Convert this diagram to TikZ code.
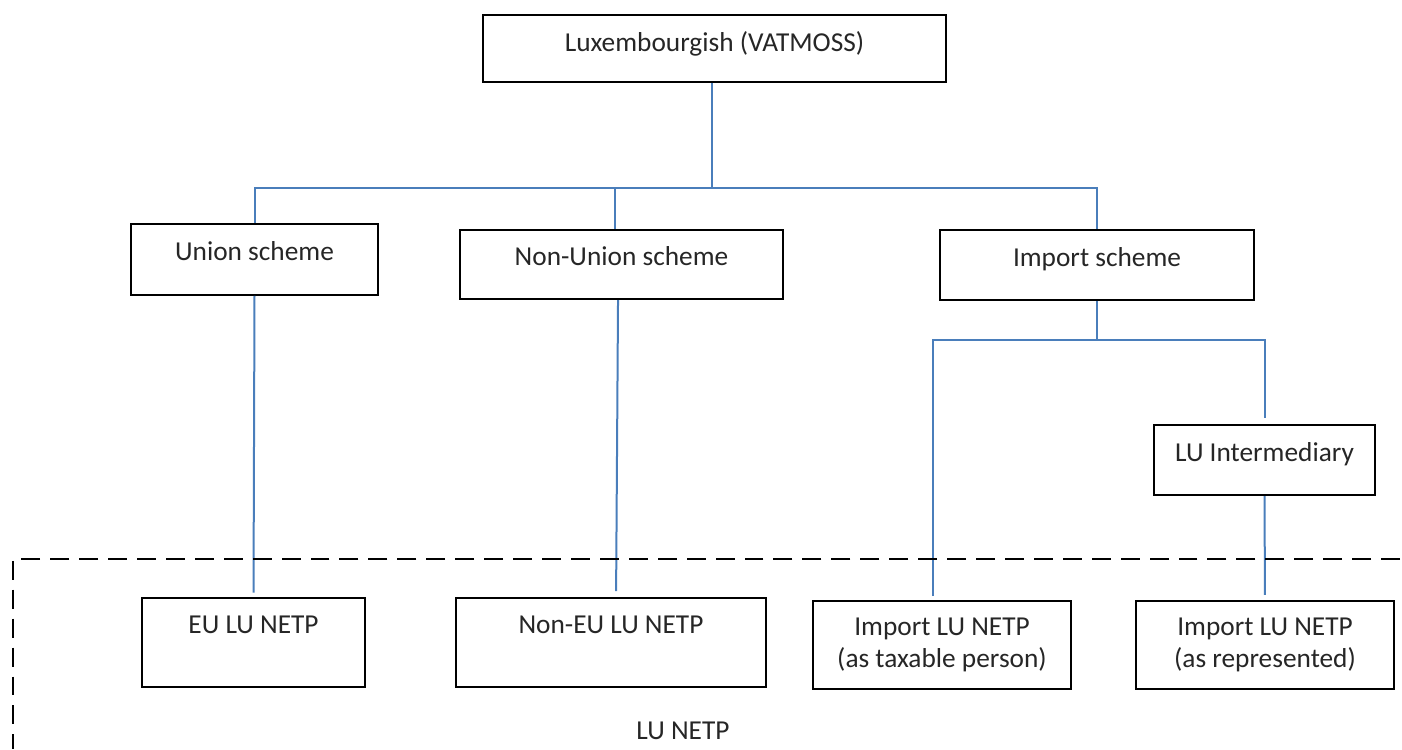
\documentclass[tikz,border=0pt]{standalone}
\usepackage{fontspec}
\setmainfont{Carlito}
\definecolor{linkblue}{HTML}{4A7EBB}
\begin{document}
\begin{tikzpicture}[x=0.375pt, y=-0.375pt,
    scheme/.style ={draw, line width=0.75pt, inner xsep=0pt, inner ysep=0pt,
      text height=13.5pt, text=black!85, font=\fontsize{10.25}{12}\selectfont},
    twoline/.style ={draw, line width=0.75pt, inner xsep=0pt, inner ysep=0pt,
      align=center, text=black!85, font=\fontsize{10.25}{12}\selectfont},
    link/.style ={draw=linkblue, line width=0.75pt},
    region/.style ={draw=black, line width=0.9pt, dash pattern=on 7.1pt off 3.75pt}]
   \useasboundingbox (0,0) rectangle (1402,749);

   \node[scheme, minimum width=173.6pt, text depth=11.6pt] (lux) at (714.5,48.5) {Luxembourgish (VATMOSS)};
   \node[scheme, minimum width=92.6pt, text depth=13.1pt] (union) at (254.5,259.5) {Union scheme};
   \node[scheme, minimum width=121.1pt, text depth=12.4pt] (nonunion) at (621.5,264.5) {Non-Union scheme};
   \node[scheme, minimum width=117.75pt, text depth=12.75pt] (import) at (1097,265) {Import scheme};
   \node[scheme, minimum width=82.9pt, text depth=12.75pt] (inter) at (1264.5,460) {LU Intermediary};
   \node[scheme, minimum width=83.6pt, text depth=19.9pt] (eu) at (253.5,642.5) {EU LU NETP};
   \node[scheme, minimum width=116.25pt, text depth=19.9pt] (noneu) at (611,642.5) {Non-EU LU NETP};
   \node[twoline, minimum width=96.75pt, minimum height=33pt] (imptax) at (942,645) {Import LU NETP\\(as taxable person)};
   \node[twoline, minimum width=96.75pt, minimum height=33pt] (imprep) at (1265,645) {Import LU NETP\\(as represented)};
   \node[anchor=base, text=black!85, font=\fontsize{10.25}{12}\selectfont] (netp) at (683,739) {LU NETP};

   \coordinate (j1) at (712,188);
   \coordinate (j2) at (1097,340);

   \draw[link] ([xshift=-0.9pt]lux.south) -- ([xshift=-0.9pt]lux.south |- j1);
   \draw[link] (union.north) |- (j1) -| (import.north);
   \draw[link] ([xshift=-2.4pt]nonunion.north) -- ([xshift=-2.4pt]nonunion.north |- j1);
   \draw[link, shorten >=1.6pt] (union.south) -- (eu.north);
   \draw[link, shorten >=2.2pt] ([xshift=-1.3pt]nonunion.south) -- ([xshift=1.9pt]noneu.north);
   \draw[link] (import.south) -- (j2);
   \draw[link, shorten <=1.5pt, shorten >=2.2pt] ([xshift=-3.4pt]imptax.north) |- (j2) -| (inter.north);
   \draw[link, shorten >=1.9pt] (inter.south) -- (imprep.north);

   \draw[region] (1400,559) -- (13,559) -- (13,749);
\end{tikzpicture}
\end{document}
